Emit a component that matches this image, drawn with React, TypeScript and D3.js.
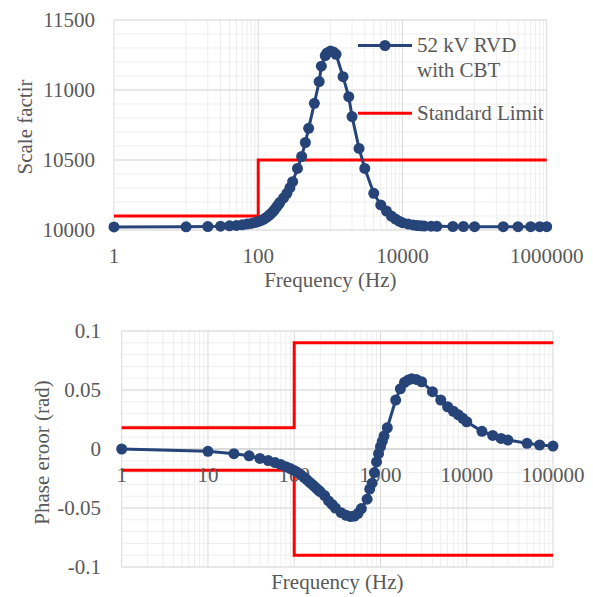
import * as d3 from "d3";

// top chart: scale factor vs frequency
const topFreq = [1, 10, 20, 30, 40, 50, 60, 70, 80, 90, 100, 110, 120, 130, 140, 150, 160, 170, 180, 190, 200, 225, 250, 275, 300, 350, 400, 450, 500, 600, 700, 750, 850, 900, 1000, 1100, 1200, 1500, 1800, 2000, 2500, 3000, 4000, 5000, 6000, 7000, 8000, 9000, 10000, 12000, 14000, 16000, 18000, 20000, 25000, 30000, 50000, 70000, 100000, 250000, 400000, 600000, 800000, 1000000];
const topScale = [10022, 10023, 10025, 10027, 10030, 10033, 10037, 10042, 10047, 10053, 10060, 10068, 10078, 10090, 10103, 10117, 10132, 10148, 10165, 10182, 10198, 10230, 10262, 10302, 10345, 10440, 10525, 10625, 10726, 10905, 11060, 11170, 11245, 11265, 11278, 11272, 11255, 11095, 10952, 10810, 10583, 10440, 10262, 10179, 10135, 10100, 10078, 10063, 10052, 10042, 10036, 10032, 10030, 10028, 10027, 10026, 10025, 10025, 10024, 10024, 10024, 10024, 10024, 10024];
const topLimitFreq = [1, 100, 100, 1000000];
const topLimit = [10100, 10100, 10500, 10500];
const topXTicks = [1, 100, 10000, 1000000];
const topYTicks = [10000, 10500, 11000, 11500];

// bottom chart: phase error vs frequency
const botFreq = [1, 10, 20, 30, 40, 50, 60, 70, 80, 90, 100, 110, 120, 130, 140, 150, 160, 170, 180, 190, 200, 225, 250, 275, 300, 350, 400, 450, 500, 550, 600, 700, 750, 800, 850, 900, 950, 1000, 1050, 1100, 1200, 1500, 1700, 1900, 2100, 2300, 2600, 3000, 4000, 5000, 6000, 7000, 8000, 9000, 10000, 15000, 20000, 25000, 30000, 50000, 70000, 100000];
const botPhase = [0, -0.002, -0.004, -0.0058, -0.008, -0.0098, -0.0115, -0.0132, -0.015, -0.0166, -0.0182, -0.02, -0.022, -0.024, -0.026, -0.028, -0.0298, -0.0315, -0.0332, -0.0348, -0.0362, -0.0395, -0.044, -0.047, -0.05, -0.054, -0.0562, -0.0572, -0.0568, -0.0545, -0.0505, -0.0425, -0.034, -0.029, -0.02, -0.011, -0.004, 0.002, 0.0065, 0.011, 0.018, 0.0415, 0.051, 0.0565, 0.0585, 0.0595, 0.059, 0.057, 0.0486, 0.0415, 0.0358, 0.032, 0.029, 0.026, 0.0231, 0.015, 0.0115, 0.009, 0.0076, 0.0048, 0.0034, 0.0025];
const botUpperFreq = [1, 100, 100, 100000];
const botUpper = [0.018, 0.018, 0.09, 0.09];
const botLowerFreq = [1, 100, 100, 100000];
const botLower = [-0.018, -0.018, -0.09, -0.09];
const botXTicks = [1, 10, 100, 1000, 10000, 100000];
const botYTicks = [-0.1, -0.05, 0, 0.05, 0.1];

const FONT = "'Liberation Serif', 'Times New Roman', serif";
const TEXT = "#595959";
const MAJOR = "#d9d9d9";
const MINOR = "#eeeeee";
const BLUE = "#264478";
const RED = "#ff0000";

export default function App() {
  // top scales
  const x1 = d3.scaleLog().domain([1, 1e6]).range([114, 546.7]);
  const y1 = d3.scaleLinear().domain([10000, 11500]).range([230, 20]);
  // bottom scales
  const x2 = d3.scaleLog().domain([1, 1e5]).range([121.7, 553]);
  const y2 = d3.scaleLinear().domain([-0.1, 0.1]).range([567, 331]);

  const line1 = d3.line<number>().x((d, i) => x1(topFreq[i])).y((d) => y1(d));
  const lim1 = d3.line<number>().x((d, i) => x1(topLimitFreq[i])).y((d) => y1(d));
  const line2 = d3.line<number>().x((d, i) => x2(botFreq[i])).y((d) => y2(d));
  const limU = d3.line<number>().x((d, i) => x2(botUpperFreq[i])).y((d) => y2(d));
  const limL = d3.line<number>().x((d, i) => x2(botLowerFreq[i])).y((d) => y2(d));

  // gridline positions
  const top1Minor: number[] = [];
  [1, 3, 5].forEach((e) => {
    for (let k = 1; k <= 9; k++) top1Minor.push(k * Math.pow(10, e));
  });
  const top1YMinor = d3.range(10000, 11501, 100);
  const bot2Minor: number[] = [];
  [0, 1, 2, 3, 4].forEach((e) => {
    for (let k = 2; k <= 9; k++) bot2Minor.push(k * Math.pow(10, e));
  });
  const bot2YMinor = d3.range(-10, 11).map((v) => v / 100);

  const [t1, t2] = [y1.range()[1], y1.range()[0]];
  const [b1, b2] = [y2.range()[1], y2.range()[0]];

  return (
    <svg width={593} height={597} style={{ position: "absolute", left: 0, top: 0, background: "#fff" }}>
      {/* ---------- top chart ---------- */}
      <g>
        {top1YMinor.map((v) => (
          <line key={"ty" + v} x1={x1(1)} x2={x1(1e6)} y1={y1(v)} y2={y1(v)} stroke={MINOR} strokeWidth={1} />
        ))}
        {top1Minor.map((f) => (
          <line key={"tx" + f} x1={x1(f)} x2={x1(f)} y1={t1} y2={t2} stroke={MINOR} strokeWidth={1} />
        ))}
        {topYTicks.map((v) => (
          <line key={"tY" + v} x1={x1(1)} x2={x1(1e6)} y1={y1(v)} y2={y1(v)} stroke={MAJOR} strokeWidth={1} />
        ))}
        {topXTicks.map((f) => (
          <line key={"tX" + f} x1={x1(f)} x2={x1(f)} y1={t1} y2={t2} stroke={MAJOR} strokeWidth={1} />
        ))}
        <path d={lim1(topLimit) || ""} fill="none" stroke={RED} strokeWidth={3} />
        <path d={line1(topScale) || ""} fill="none" stroke={BLUE} strokeWidth={3} />
        {topScale.map((v, i) => (
          <circle key={"tp" + i} cx={x1(topFreq[i])} cy={y1(v)} r={5.5} fill={BLUE} />
        ))}
        {topYTicks.map((v) => (
          <text key={"tyl" + v} x={95} y={y1(v) + 7} textAnchor="end" fontFamily={FONT} fontSize={21} fill={TEXT}>
            {v}
          </text>
        ))}
        {topXTicks.map((f) => (
          <text key={"txl" + f} x={x1(f)} y={263} textAnchor="middle" fontFamily={FONT} fontSize={21} fill={TEXT}>
            {f}
          </text>
        ))}
        <text x={(x1(1) + x1(1e6)) / 2} y={287} textAnchor="middle" fontFamily={FONT} fontSize={21} fill={TEXT}>
          Frequency (Hz)
        </text>
        <text transform="translate(31.5,127) rotate(-90)" textAnchor="middle" fontFamily={FONT} fontSize={21} fill={TEXT}>
          Scale factir
        </text>
        {/* legend */}
        <line x1={358} x2={412} y1={45.5} y2={45.5} stroke={BLUE} strokeWidth={3} />
        <circle cx={385} cy={45.5} r={5.5} fill={BLUE} />
        <text x={417} y={51.7} fontFamily={FONT} fontSize={21} fill={TEXT}>52 kV RVD</text>
        <text x={417} y={76.7} fontFamily={FONT} fontSize={21} fill={TEXT}>with CBT</text>
        <line x1={358} x2={412} y1={113.3} y2={113.3} stroke={RED} strokeWidth={3} />
        <text x={417} y={120} fontFamily={FONT} fontSize={21} fill={TEXT}>Standard Limit</text>
      </g>

      {/* ---------- bottom chart ---------- */}
      <g>
        {bot2YMinor.map((v) => (
          <line key={"by" + v} x1={x2(1)} x2={x2(1e5)} y1={y2(v)} y2={y2(v)} stroke={MINOR} strokeWidth={1} />
        ))}
        {bot2Minor.map((f) => (
          <line key={"bx" + f} x1={x2(f)} x2={x2(f)} y1={b1} y2={b2} stroke={MINOR} strokeWidth={1} />
        ))}
        {botYTicks.map((v) => (
          <line key={"bY" + v} x1={x2(1)} x2={x2(1e5)} y1={y2(v)} y2={y2(v)} stroke={v === 0 ? "#bfbfbf" : MAJOR} strokeWidth={1} />
        ))}
        {botXTicks.map((f) => (
          <line key={"bX" + f} x1={x2(f)} x2={x2(f)} y1={b1} y2={b2} stroke={MAJOR} strokeWidth={1} />
        ))}
        <path d={limU(botUpper) || ""} fill="none" stroke={RED} strokeWidth={3} />
        <path d={limL(botLower) || ""} fill="none" stroke={RED} strokeWidth={3} />
        {botXTicks.map((f) => (
          <text key={"bxl" + f} x={x2(f)} y={y2(0) + 33} textAnchor="middle" fontFamily={FONT} fontSize={21} fill={TEXT}>
            {f}
          </text>
        ))}
        <path d={line2(botPhase) || ""} fill="none" stroke={BLUE} strokeWidth={3} />
        {botPhase.map((v, i) => (
          <circle key={"bp" + i} cx={x2(botFreq[i])} cy={y2(v)} r={5.5} fill={BLUE} />
        ))}
        {botYTicks.map((v) => (
          <text key={"byl" + v} x={101} y={y2(v) + 7} textAnchor="end" fontFamily={FONT} fontSize={21} fill={TEXT}>
            {String(v)}
          </text>
        ))}
        <text x={(x2(1) + x2(1e5)) / 2} y={588.5} textAnchor="middle" fontFamily={FONT} fontSize={21} fill={TEXT}>
          Frequency (Hz)
        </text>
        <text transform="translate(49,452.5) rotate(-90)" textAnchor="middle" fontFamily={FONT} fontSize={21} fill={TEXT}>
          Phase eroor (rad)
        </text>
      </g>
    </svg>
  );
}
